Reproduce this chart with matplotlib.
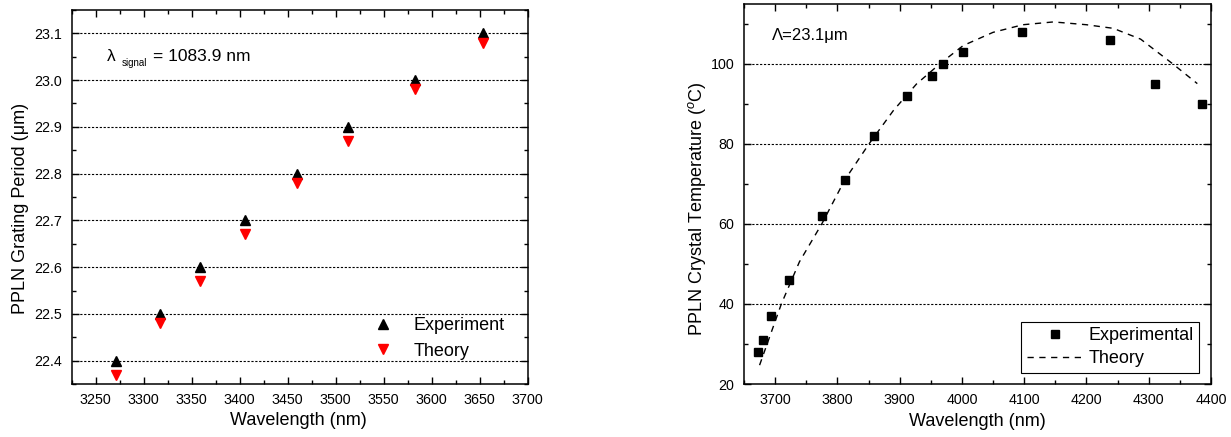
import matplotlib
matplotlib.use("Agg")
import matplotlib.pyplot as plt
from matplotlib.ticker import MultipleLocator

plt.rcParams['font.family'] = ['Liberation Sans', 'DejaVu Sans']
plt.rcParams['mathtext.fontset'] = 'custom'
plt.rcParams['mathtext.rm'] = 'Liberation Sans'
plt.rcParams['mathtext.it'] = 'Liberation Sans:italic'

# ---- Left panel data ----
left_wavelength = [3271, 3317, 3359, 3405, 3460, 3513, 3583, 3653]
left_experiment = [22.40, 22.50, 22.60, 22.70, 22.80, 22.90, 23.00, 23.10]
left_theory = [22.37, 22.48, 22.57, 22.67, 22.78, 22.87, 22.98, 23.08]

# ---- Right panel data ----
right_exp_wavelength = [3672, 3680, 3693, 3722, 3775, 3812, 3858, 3912, 3952,
                        3970, 4002, 4096, 4237, 4310, 4385]
right_exp_temp = [28, 31, 37, 46, 62, 71, 82, 92, 97, 100, 103, 108, 106, 95, 90]
right_theory_wavelength = [3675, 3710, 3739, 3775, 3812, 3851, 3890, 3927, 3965,
                           4002, 4050, 4098, 4147, 4200, 4243, 4287, 4338, 4378]
right_theory_temp = [24.7, 40, 50.5, 60, 71, 80, 88.3, 94.9, 100, 104.5, 107.8,
                     109.7, 110.4, 109.7, 108.8, 106.1, 100, 95]

fig = plt.figure(figsize=(12.31, 4.37), dpi=100)
axL = fig.add_axes([0.05825, 0.12128, 0.37043, 0.85584])
axR = fig.add_axes([0.60439, 0.12128, 0.37937, 0.87071])

grid_style = dict(color='black', linewidth=0.8, linestyle=(0, (2, 1.5)), zorder=0)

def style_axes(ax):
    for s in ax.spines.values():
        s.set_linewidth(1.1)
    ax.tick_params(which='both', direction='in', top=True, right=True,
                   labelsize=10.3, width=1.0, colors='black')
    ax.tick_params(which='major', length=5)
    ax.tick_params(which='minor', length=3)
    ax.tick_params(axis='y', pad=7)
    ax.tick_params(axis='x', pad=6.5)

# Left panel
axL.set_xlim(3225, 3700)
axL.set_ylim(22.35, 23.15)
axL.xaxis.set_major_locator(MultipleLocator(50))
axL.xaxis.set_minor_locator(MultipleLocator(25))
axL.yaxis.set_major_locator(MultipleLocator(0.1))
axL.yaxis.set_minor_locator(MultipleLocator(0.05))
axL.yaxis.set_major_formatter(matplotlib.ticker.FormatStrFormatter('%.1f'))
style_axes(axL)
for yv in [22.4, 22.5, 22.6, 22.7, 22.8, 22.9, 23.0, 23.1]:
    axL.axhline(yv, **grid_style)
axL.plot(left_wavelength, left_experiment, linestyle='none', marker='^',
         color='black', markersize=7, label='Experiment', zorder=3)
axL.plot(left_wavelength, left_theory, linestyle='none', marker='v',
         color='red', markeredgecolor='red', markersize=7, label='Theory', zorder=3)
axL.set_xlabel('Wavelength (nm)', fontsize=13)
axL.set_ylabel('PPLN Grating Period (\u03bcm)', fontsize=13)
axL.xaxis.set_label_coords(0.496, -0.076)
axL.yaxis.set_label_coords(-0.094, 0.47)
axL.legend(loc='center left', bbox_to_anchor=(0.644, 0.1217), frameon=False,
           fontsize=13, borderpad=0, borderaxespad=0, handlelength=2,
           handletextpad=0.69, labelspacing=0.45, numpoints=1)
axL.text(0.0768, 0.877, '\u03bb', transform=axL.transAxes, fontsize=12.5,
         ha='left', va='center')
axL.text(0.1096, 0.8575, 'signal', transform=axL.transAxes, fontsize=7,
         ha='left', va='center')
axL.text(0.179, 0.875, '= 1083.9 nm', transform=axL.transAxes, fontsize=12.5,
         ha='left', va='center')

# Right panel
axR.set_xlim(3650, 4400)
axR.set_ylim(20, 115)
axR.xaxis.set_major_locator(MultipleLocator(100))
axR.xaxis.set_minor_locator(MultipleLocator(50))
axR.yaxis.set_major_locator(MultipleLocator(20))
axR.yaxis.set_minor_locator(MultipleLocator(10))
style_axes(axR)
for yv in [40, 60, 80, 100]:
    axR.axhline(yv, **grid_style)
axR.plot(right_exp_wavelength, right_exp_temp, linestyle='none', marker='s',
         color='black', markersize=5.5, label='Experimental', zorder=3)
axR.plot(right_theory_wavelength, right_theory_temp, color='black',
         linewidth=1.0, linestyle=(0, (4.5, 4)), label='Theory', zorder=2)
axR.set_xlabel('Wavelength (nm)', fontsize=13)
axR.set_ylabel('PPLN Crystal Temperature ($^{o}$C)', fontsize=13)
axR.xaxis.set_label_coords(0.5, -0.075)
axR.yaxis.set_label_coords(-0.077, 0.46)
leg = axR.legend(loc='lower right', bbox_to_anchor=(0.974, 0.0297), frameon=True,
                 fontsize=13, borderpad=0.3, borderaxespad=0, handlelength=3.1,
                 handletextpad=0.3, labelspacing=0.35, numpoints=1, fancybox=False)
leg.get_frame().set_edgecolor('black')
leg.get_frame().set_linewidth(0.8)
leg.get_frame().set_alpha(1)
axR.text(0.0593, 0.917, '\u039b=23.1\u03bcm', transform=axR.transAxes, fontsize=12,
         ha='left', va='center')

fig.savefig('out.png', dpi=100)
